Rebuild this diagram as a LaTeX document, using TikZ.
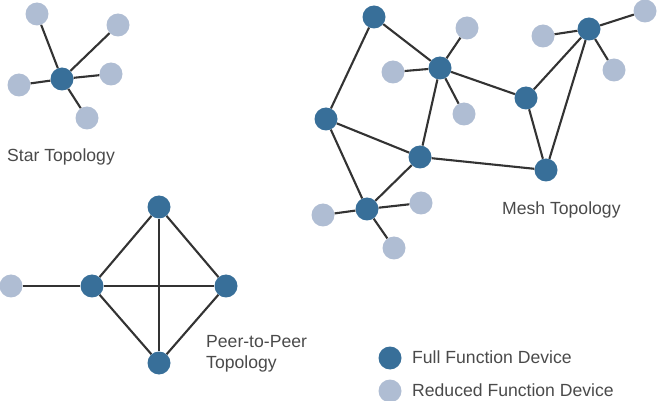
\documentclass[tikz,border=0pt]{standalone}
\usepackage{fontspec}
\setmainfont{Liberation Sans}
\usepackage{tikz}

\definecolor{ffdblue}{HTML}{386F99}
\definecolor{rfdgrey}{HTML}{AFBDD3}
\definecolor{linkgrey}{HTML}{333333}
\definecolor{textgrey}{HTML}{4A4A4A}

\begin{document}
\begin{tikzpicture}[x=1pt,y=-1pt,
    ffd/.style={circle,fill=ffdblue,minimum size=23pt,inner sep=0pt},
    rfd/.style={circle,fill=rfdgrey,minimum size=23pt,inner sep=0pt},
    link/.style={draw=linkgrey,line width=2.1pt},
    caption/.style={text=textgrey,font=\fontsize{17.6}{21}\selectfont,anchor=west,align=left,inner sep=0pt}]
\useasboundingbox (0,0) rectangle (657,401);

% star
\node[ffd] (hub) at (62,79) {}; % Star.hub
\node[rfd] (s1) at (37,14) {};
\node[rfd] (s2) at (118,25) {};
\node[rfd] (s3) at (111,74) {};
\node[rfd] (s4) at (19,85) {};
\node[rfd] (s5) at (87,118) {};
\draw[link] (hub) -- (s1);
\draw[link] (hub) -- (s2);
\draw[link] (hub) -- (s3);
\draw[link] (hub) -- (s4);
\draw[link] (hub) -- (s5);
\node[caption] (startxt) at (7,157) {Star Topology};

% peer to peer
\node[ffd] (ptop) at (159,207) {}; % P2P.top
\node[ffd] (pleft) at (92,286) {}; % P2P.left
\node[ffd] (pright) at (226,286) {}; % P2P.right
\node[ffd] (pbot) at (159,363) {}; % P2P.bottom
\node[rfd] (pleaf) at (11,286) {};
\draw[link] (pleft) -- (ptop) -- (pright) -- (pbot) -- (pleft);
\draw[link] (pleft) -- (pright);
\draw[link] (ptop) -- (pbot);
\draw[link] (pleaf) -- (pleft);
\node[caption] (p2ptxt) at (206,354) {Peer-to-Peer\\Topology};

% mesh
\node[ffd] (ma) at (374,17) {}; % Mesh.a
\node[ffd] (mb) at (440,68) {}; % Mesh.b
\node[ffd] (mc) at (326,119) {}; % Mesh.c
\node[ffd] (md) at (420,157) {}; % Mesh.d
\node[ffd] (me) at (367,209) {}; % Mesh.e
\node[ffd] (mf) at (526,98) {}; % Mesh.f
\node[ffd] (mg) at (589,29) {}; % Mesh.g
\node[ffd] (mh) at (546,170) {}; % Mesh.h
\node[rfd] (b1) at (467,28) {};
\node[rfd] (b2) at (393,72) {};
\node[rfd] (b3) at (464,114) {};
\node[rfd] (e1) at (323,215) {};
\node[rfd] (e2) at (421,203) {};
\node[rfd] (e3) at (394,248) {};
\node[rfd] (g1) at (543,36) {};
\node[rfd] (g2) at (614,70) {};
\node[rfd] (g3) at (645,11) {};
\draw[link] (ma) -- (mb);
\draw[link] (ma) -- (mc);
\draw[link] (mc) -- (md);
\draw[link] (mc) -- (me);
\draw[link] (mb) -- (md);
\draw[link] (md) -- (me);
\draw[link] (mb) -- (mf);
\draw[link] (md) -- (mh);
\draw[link] (mf) -- (mg);
\draw[link] (mf) -- (mh);
\draw[link] (mg) -- (mh);
\draw[link] (mb) -- (b1);
\draw[link] (mb) -- (b2);
\draw[link] (mb) -- (b3);
\draw[link] (me) -- (e1);
\draw[link] (me) -- (e2);
\draw[link] (me) -- (e3);
\draw[link] (mg) -- (g1);
\draw[link] (mg) -- (g2);
\draw[link] (mg) -- (g3);
\node[caption] (meshtxt) at (502,210) {Mesh Topology};

% legend
\node[ffd] (keyffd) at (390,358) {};
\node[rfd] (keyrfd) at (390,391) {};
\node[caption] (keyffdtxt) at (412,357) {Full Function Device};
\node[caption] (keyrfdtxt) at (412,390) {Reduced Function Device};
\end{tikzpicture}
\end{document}
